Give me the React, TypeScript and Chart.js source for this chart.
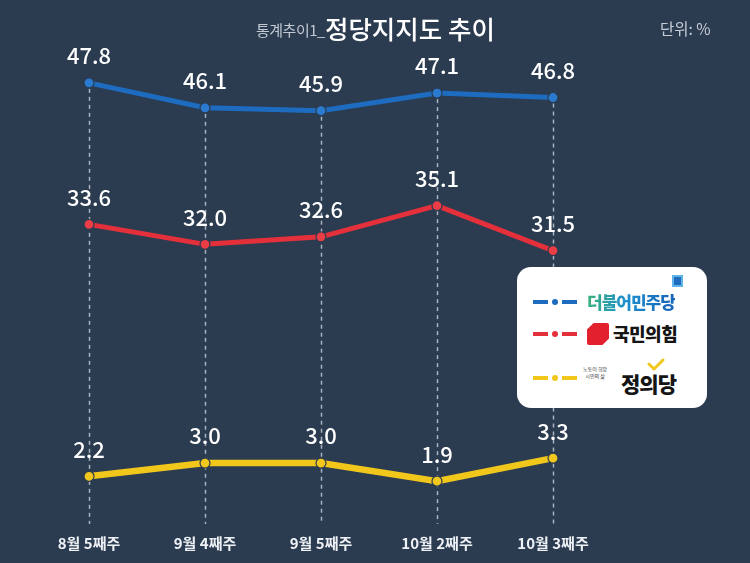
import React, { useEffect, useRef } from "react";
import { Chart, registerables } from "chart.js";

Chart.register(...registerables);

const categories = ["8월 5째주", "9월 4째주", "9월 5째주", "10월 2째주", "10월 3째주"];
const democratic = [47.8, 46.1, 45.9, 47.1, 46.8];
const peoplePower = [33.6, 32.0, 32.6, 35.1, 31.5];
const justice = [2.2, 3.0, 3.0, 1.9, 3.3];

const BG = "#2b3b50";
const BLUE = "#1d6cc0";
const RED = "#e3303a";
const YELLOW = "#f2c71c";
const FONT = "'Noto Sans CJK KR', 'Noto Sans', sans-serif";

const gridPlugin = {
  id: "vgrid",
  beforeDatasetsDraw(chart: any) {
    const { ctx, chartArea } = chart;
    const top = chart.getDatasetMeta(0);
    ctx.save();
    ctx.strokeStyle = "rgba(215,220,228,0.75)";
    ctx.lineWidth = 1.5;
    ctx.setLineDash([4, 4]);
    top.data.forEach((pt: any) => {
      ctx.beginPath();
      ctx.moveTo(Math.round(pt.x) + 0.5, pt.y + 6);
      ctx.lineTo(Math.round(pt.x) + 0.5, chartArea.bottom);
      ctx.stroke();
    });
    ctx.restore();
  },
};

const labelPlugin = {
  id: "vlabels",
  afterDatasetsDraw(chart: any) {
    const { ctx } = chart;
    ctx.save();
    ctx.fillStyle = "#ffffff";
    ctx.font = `500 22px ${FONT}`;
    ctx.textAlign = "center";
    ctx.textBaseline = "middle";
    chart.data.datasets.forEach((ds: any, i: number) => {
      const meta = chart.getDatasetMeta(i);
      meta.data.forEach((pt: any, j: number) => {
        ctx.fillText(ds.data[j].toFixed(1), pt.x, pt.y - 27);
      });
    });
    ctx.restore();
  },
};

function LegendIcon({ color }: { color: string }) {
  return (
    <div style={{ position: "relative", width: 44, height: 8 }}>
      <div style={{ position: "absolute", left: 0, top: 2, width: 15, height: 4, background: color }} />
      <div style={{ position: "absolute", left: 19, top: 1, width: 6, height: 6, borderRadius: 3, background: color }} />
      <div style={{ position: "absolute", left: 29, top: 2, width: 15, height: 4, background: color }} />
    </div>
  );
}

export default function App() {
  const ref = useRef<HTMLCanvasElement | null>(null);

  useEffect(() => {
    if (!ref.current) return;
    const pointCommon = {
      pointRadius: 5,
      pointBorderWidth: 1.2,
      pointBorderColor: BG,
      tension: 0,
    };
    const chart = new Chart(ref.current, {
      type: "line",
      data: {
        labels: categories,
        datasets: [
          { label: "더불어민주당", data: democratic, borderColor: BLUE, backgroundColor: "#2a7ad0", pointBackgroundColor: "#2a7ad0", borderWidth: 5, yAxisID: "yBlue", ...pointCommon },
          { label: "국민의힘", data: peoplePower, borderColor: RED, backgroundColor: RED, pointBackgroundColor: "#ea3d45", borderWidth: 5, yAxisID: "yRed", ...pointCommon },
          { label: "정의당", data: justice, borderColor: YELLOW, backgroundColor: YELLOW, pointBackgroundColor: YELLOW, borderWidth: 6.5, yAxisID: "yYellow", ...pointCommon },
        ],
      },
      options: {
        responsive: false,
        animation: false,
        layout: { padding: { top: 60, bottom: 1, left: 89, right: 197 } },
        plugins: { legend: { display: false }, tooltip: { enabled: false }, title: { display: false } },
        scales: {
          x: {
            type: "category",
            offset: false,
            grid: { display: false, drawTicks: false },
            border: { display: false },
            ticks: { color: "#eef1f5", font: { family: FONT, size: 15, weight: "bold" }, padding: 10, maxRotation: 0, autoSkip: false },
          },
          yBlue: { type: "linear", display: false, min: 17.7, max: 49.36 },
          yRed: { type: "linear", display: false, min: 9.58, max: 46.78 },
          yYellow: { type: "linear", display: false, min: -0.7, max: 27.5 },
        },
      } as any,
      plugins: [gridPlugin, labelPlugin],
    });
    return () => chart.destroy();
  }, []);

  return (
    <div style={{ position: "fixed", left: 0, top: 0, width: 750, height: 563, background: BG, overflow: "hidden", fontFamily: FONT }}>
      <canvas ref={ref} width={750} height={563} style={{ position: "absolute", left: 0, top: 0 }} />
      <div style={{ position: "absolute", left: 256, top: 8, height: 38, display: "flex", alignItems: "center", whiteSpace: "nowrap" }}>
        <span style={{ color: "#c3c9d2", fontSize: 15, marginTop: 4, letterSpacing: -0.5 }}>통계추이1_</span>
        <span style={{ color: "#ffffff", fontSize: 25.5, fontWeight: 500 }}>정당지지도 추이</span>
      </div>
      <div style={{ position: "absolute", left: 660, top: 17, color: "#c8ced6", fontSize: 15.5, whiteSpace: "nowrap" }}>단위: %</div>

      <div style={{ position: "absolute", left: 517, top: 267, width: 190, height: 141, background: "#ffffff", borderRadius: 14 }}>
        <div style={{ position: "absolute", left: 16, top: 31 }}><LegendIcon color={BLUE} /></div>
        <div style={{ position: "absolute", left: 70, top: 22, fontSize: 17, fontWeight: 800, letterSpacing: -1, whiteSpace: "nowrap", background: "linear-gradient(90deg, #3bb07a, #1d8fcf 45%, #1563b8)", WebkitBackgroundClip: "text", backgroundClip: "text", color: "transparent" }}>더불어민주당</div>
        <div style={{ position: "absolute", left: 155, top: 8, width: 11, height: 12, background: "#1d6cc0", border: "2px solid #5fb3e6", boxSizing: "border-box" }} />

        <div style={{ position: "absolute", left: 16, top: 63 }}><LegendIcon color={RED} /></div>
        <div style={{ position: "absolute", left: 70, top: 56, width: 22, height: 22, background: "#e3202e", clipPath: "polygon(30% 0, 100% 0, 100% 70%, 70% 100%, 0 100%, 0 30%)", borderRadius: 2 }} />
        <div style={{ position: "absolute", left: 96, top: 53, fontSize: 18, fontWeight: 800, color: "#151515", letterSpacing: -0.5, whiteSpace: "nowrap" }}>국민의힘</div>

        <div style={{ position: "absolute", left: 16, top: 107 }}><LegendIcon color={YELLOW} /></div>
        <div style={{ position: "absolute", left: 66, top: 98, fontSize: 5, lineHeight: "7px", color: "#333", textAlign: "center", whiteSpace: "nowrap" }}>
          노동이 희망<br />시민의 삶
        </div>
        <svg style={{ position: "absolute", left: 130, top: 91 }} width={18} height={14} viewBox="0 0 18 14">
          <polyline points="2,6 7,11 16,2" fill="none" stroke={YELLOW} strokeWidth={3} strokeLinecap="round" strokeLinejoin="round" />
        </svg>
        <div style={{ position: "absolute", left: 104, top: 101, fontSize: 21, fontWeight: 800, color: "#151515", letterSpacing: -1, whiteSpace: "nowrap" }}>정의당</div>
      </div>
    </div>
  );
}
